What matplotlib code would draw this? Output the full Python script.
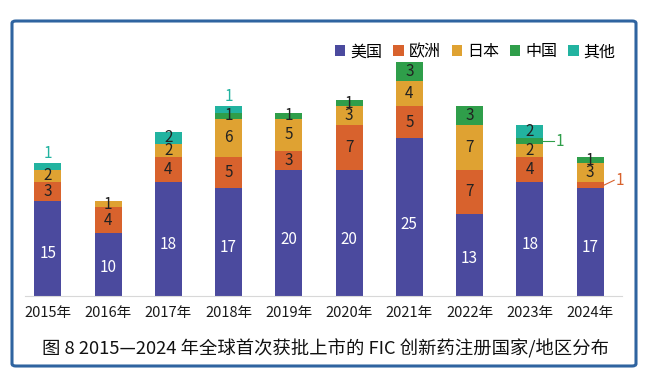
import numpy as np
import matplotlib.pyplot as plt
from matplotlib.patches import FancyBboxPatch

plt.rcParams['font.family'] = ['Noto Sans CJK SC', 'DejaVu Sans']

years = ["2015年", "2016年", "2017年", "2018年", "2019年",
         "2020年", "2021年", "2022年", "2023年", "2024年"]
usa = [15, 10, 18, 17, 20, 20, 25, 13, 18, 17]
europe = [3, 4, 4, 5, 3, 7, 5, 7, 4, 1]
japan = [2, 1, 2, 6, 5, 3, 4, 7, 2, 3]
china = [0, 0, 0, 1, 1, 1, 3, 3, 1, 1]
other = [1, 0, 2, 1, 0, 0, 0, 0, 2, 0]

names = ["美国", "欧洲", "日本", "中国", "其他"]
colors = ["#4b4a9e", "#d8622d", "#dfa232", "#2f9e4a", "#22b3a0"]
series = [usa, europe, japan, china, other]

# segments too thin for an inside label: (series index, year index) -> label style
outside = {(4, 0): "above", (4, 3): "above", (3, 8): "side", (1, 9): "side"}

fig = plt.figure(figsize=(6.5, 3.87), dpi=100)
fig.patch.set_facecolor("white")
frame = FancyBboxPatch((12 / 650, 1 - 366 / 387), 624 / 650, 345 / 387,
                       boxstyle="round,pad=0,rounding_size=0.006",
                       transform=fig.transFigure, facecolor="white",
                       edgecolor="#2f64a0", linewidth=2.2, zorder=-5)
fig.patches.append(frame)

ax = fig.add_axes([25 / 650, 1 - 296 / 387, 597 / 650, 253 / 387])
ax.set_facecolor("none")
ax.set_zorder(2)
x = np.arange(len(years))
bottom = np.zeros(len(years))
for i, (vals, c, n) in enumerate(zip(series, colors, names)):
    vals = np.array(vals)
    ax.bar(x, vals, 0.45, bottom=bottom, color=c, label=n, zorder=2)
    for j, v in enumerate(vals):
        if v == 0:
            continue
        mid = bottom[j] + v / 2
        style = outside.get((i, j))
        if style == "above":
            ax.text(x[j], bottom[j] + v + 1.6, str(v), ha="center", va="center",
                    fontsize=11, color=c)
        elif style == "side":
            ly = mid + 0.8 if i == 1 else mid
            ax.plot([x[j] + 0.225, x[j] + 0.4], [mid, ly], color=c, lw=0.8)
            ax.text(x[j] + 0.5, ly, str(v), ha="center", va="center",
                    fontsize=11, color=c)
        else:
            col = "white" if i == 0 else "#222222"
            ypos = mid if i > 0 else bottom[j] + v * 0.45
            ax.text(x[j], ypos, str(v), ha="center", va="center",
                    fontsize=11, color=col)
    bottom += vals

ax.set_xlim(-0.38, 9.53)
ax.set_ylim(0, 40)
ax.set_xticks(x)
ax.set_xticklabels(years, fontsize=10.5, color="#1a1a1a")
ax.tick_params(axis="x", length=0, pad=7)
ax.set_yticks([])
for s in ["top", "right", "left"]:
    ax.spines[s].set_visible(False)
ax.spines["bottom"].set_color("#d8d8d8")

fig.legend(loc="upper right", bbox_to_anchor=(630 / 650, 1 - 29 / 387), ncol=5,
           frameon=False, fontsize=11.5, handlelength=0.65, handleheight=0.65,
           handletextpad=0.3, columnspacing=0.7)

fig.text(0.5, 1 - 349 / 387, "图 8 2015—2024 年全球首次获批上市的 FIC 创新药注册国家/地区分布",
         ha="center", va="center", fontsize=13.2, fontweight="medium",
         color="#111111")

fig.savefig("out.png", dpi=100)
